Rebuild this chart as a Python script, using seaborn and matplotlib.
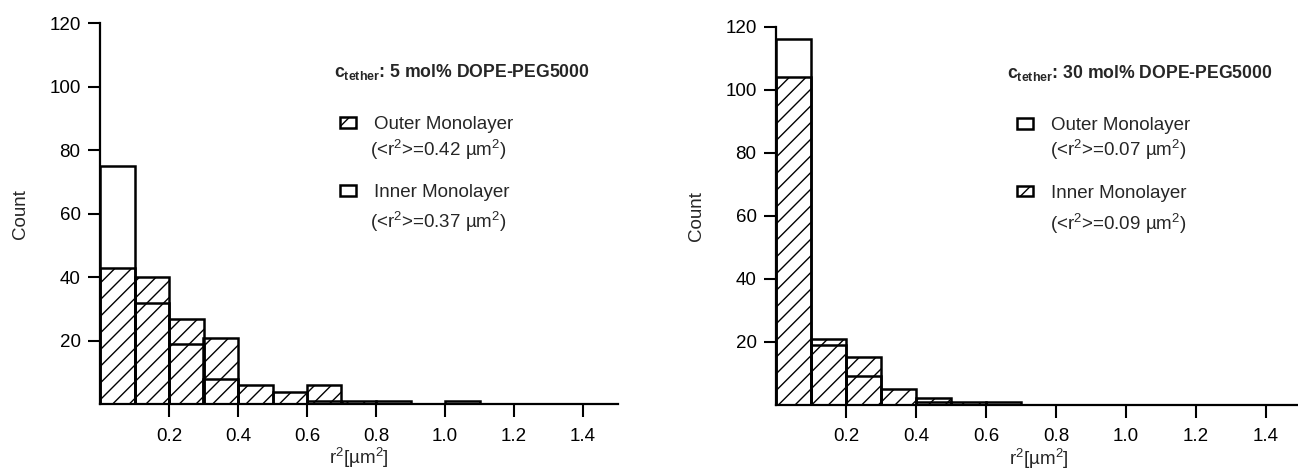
import numpy as np
import pandas as pd
import matplotlib
matplotlib.use("Agg")
import matplotlib.pyplot as plt
import seaborn as sns
from matplotlib.patches import Patch

# ---- data (bin counts) ----
bin_edges = [0.0, 0.1, 0.2, 0.3, 0.4, 0.5, 0.6, 0.7, 0.8, 0.9, 1.0, 1.1, 1.2, 1.3, 1.4, 1.5]
# left panel: 5 mol% DOPE-PEG5000
left_outer = [43, 40, 27, 21, 6, 4, 6, 1, 0, 0, 0, 0, 0, 0, 0]   # hatched
left_inner = [75, 32, 19, 8, 0, 0, 1, 0, 1, 0, 1, 0, 0, 0, 0]    # open
# right panel: 30 mol% DOPE-PEG5000
right_outer = [116, 19, 9, 0, 1, 0, 1, 0, 0, 0, 0, 0, 0, 0, 0]   # open
right_inner = [104, 21, 15, 5, 2, 1, 0, 0, 0, 0, 0, 0, 0, 0, 0]  # hatched

x_ticks = [0.2, 0.4, 0.6, 0.8, 1.0, 1.2, 1.4]
y_ticks = [20, 40, 60, 80, 100, 120]
left_title = r"c$_{tether}$: 5 mol% DOPE-PEG5000"
right_title = r"c$_{tether}$: 30 mol% DOPE-PEG5000"
left_labels = ["Outer Monolayer", "Inner Monolayer"]
left_means = [r"(<r$^2$>=0.42 µm$^2$)", r"(<r$^2$>=0.37 µm$^2$)"]
right_labels = ["Outer Monolayer", "Inner Monolayer"]
right_means = [r"(<r$^2$>=0.07 µm$^2$)", r"(<r$^2$>=0.09 µm$^2$)"]

sns.set_style("ticks")
plt.rcParams["font.family"] = ["Liberation Sans", "DejaVu Sans"]
plt.rcParams["mathtext.fontset"] = "custom"
plt.rcParams["mathtext.rm"] = "Liberation Sans"
plt.rcParams["mathtext.bf"] = "Liberation Sans:bold"
plt.rcParams["mathtext.it"] = "Liberation Sans:italic"
plt.rcParams["mathtext.default"] = "regular"
plt.rcParams["hatch.linewidth"] = 1.0
plt.rcParams["hatch.color"] = "black"

FS = 13.5
W, H = 1298, 473
fig = plt.figure(figsize=(W / 100, H / 100), dpi=100)

def fx(px):
    return px / W

def fy(py):
    return 1 - py / H

axL = fig.add_axes([fx(100), 1 - 404.3 / H, 517.5 / W, 381 / H])
axR = fig.add_axes([fx(776), 1 - 404.7 / H, 525 / W, 378 / H])

centers = [(a + b) / 2 for a, b in zip(bin_edges[:-1], bin_edges[1:])]

def draw_hist(ax, counts, hatch):
    df = pd.DataFrame({"r2": centers, "n": counts})
    kw = dict(hatch=hatch) if hatch else {}
    sns.histplot(data=df, x="r2", weights="n", bins=list(bin_edges), ax=ax,
                 fill=False, color="black", linewidth=1.8, element="bars", **kw)

draw_hist(axL, left_inner, None)
draw_hist(axL, left_outer, "//")
draw_hist(axR, right_outer, None)
draw_hist(axR, right_inner, "//")

for ax in (axL, axR):
    ax.set_xlim(0, 1.5)
    ax.set_ylim(0, 120)
    ax.set_xticks(x_ticks)
    ax.set_xticklabels([f"{t:.1f}" for t in x_ticks])
    ax.set_yticks(y_ticks)
    ax.set_yticklabels([str(t) for t in y_ticks])
    sns.despine(ax=ax)
    for s in ("left", "bottom"):
        ax.spines[s].set_linewidth(1.6)
        ax.spines[s].set_color("black")
    ax.tick_params(axis="both", direction="out", length=9, width=1.5,
                   labelsize=FS, colors="black")
    ax.tick_params(axis="x", pad=8)
    ax.tick_params(axis="y", pad=5)
    ax.set_xlabel(r"r$^2$[µm$^2$]", fontsize=FS, labelpad=1)
    ax.set_ylabel("Count", fontsize=FS)
    ax.set_facecolor("none")

axL.yaxis.set_label_coords(-0.137, 0.5)
axR.yaxis.set_label_coords(-0.135, 0.5)

# titles
fig.text(fx(334), fy(72), left_title, fontsize=12.7, fontweight="bold", va="center", ha="left")
fig.text(fx(1007), fy(73), right_title, fontsize=12.7, fontweight="bold", va="center", ha="left")

def hatch_patch():
    return Patch(facecolor="none", edgecolor="black", hatch="//", linewidth=1.8)

def open_patch():
    return Patch(facecolor="none", edgecolor="black", linewidth=1.8)

leg_kw = dict(loc="center left", frameon=False, borderpad=0, borderaxespad=0,
              handlelength=0.85, handleheight=0.5, handletextpad=0.95,
              labelspacing=2.7, fontsize=FS)
fig.legend(handles=[hatch_patch(), open_patch()], labels=left_labels,
           bbox_to_anchor=(fx(340), fy(158.5)), **leg_kw)
fig.legend(handles=[open_patch(), hatch_patch()], labels=right_labels,
           bbox_to_anchor=(fx(1017), fy(159.5)), **leg_kw)

fig.text(fx(370), fy(150), left_means[0], fontsize=FS, va="center")
fig.text(fx(370), fy(222), left_means[1], fontsize=FS, va="center")
fig.text(fx(1050), fy(150), right_means[0], fontsize=FS, va="center")
fig.text(fx(1050), fy(224), right_means[1], fontsize=FS, va="center")

fig.savefig("out.png", dpi=100)
